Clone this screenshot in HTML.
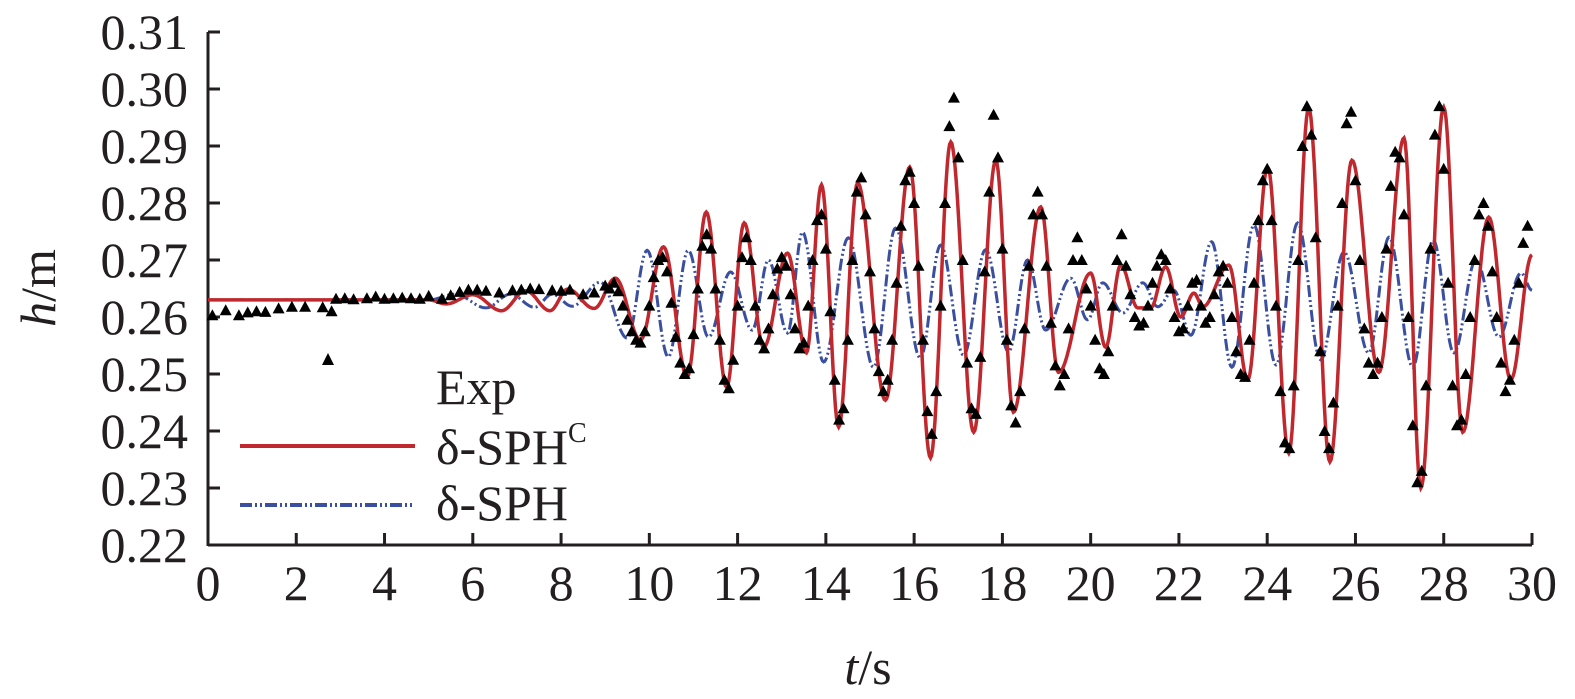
<!DOCTYPE html>
<html><head><meta charset="utf-8"><style>
html,body{margin:0;padding:0;background:#fff;}
svg{display:block;}
text{font-family:"Liberation Serif","Times New Roman",serif;}
</style></head><body>
<svg id="chart" width="1575" height="699" viewBox="0 0 1575 699" xmlns="http://www.w3.org/2000/svg" font-family="Liberation Serif, serif">
<g id="axes"></g>
<g id="series"></g>
<g id="legend">
  <path d="M328,353 L334,365 L322,365 Z" fill="#000"/>
  <text x="436" y="404" font-size="50" fill="#231f20" font-family="Liberation Serif, serif">Exp</text>
  <line x1="240" y1="446" x2="415" y2="446" stroke="#c0282e" stroke-width="4"/>
  <text x="436" y="464" font-size="50" fill="#231f20" font-family="Liberation Serif, serif">δ-SPH<tspan font-size="28" dy="-22">C</tspan></text>
  <line x1="240" y1="505" x2="415" y2="505" stroke="#3a4fa0" stroke-width="4" stroke-dasharray="12,3,2,3,2,3"/>
  <text x="436" y="520" font-size="50" fill="#231f20" font-family="Liberation Serif, serif">δ-SPH</text>
</g>
<text x="868" y="684" font-size="50" text-anchor="middle" fill="#231f20" font-family="Liberation Serif, serif"><tspan font-style="italic">t</tspan>/s</text>
<text transform="translate(55,288) rotate(-90)" font-size="50" text-anchor="middle" fill="#231f20" font-family="Liberation Serif, serif"><tspan font-style="italic">h</tspan>/m</text>
</svg>
<script>
const xTicks = [0,2,4,6,8,10,12,14,16,18,20,22,24,26,28,30];
const yTicks = [0.22,0.23,0.24,0.25,0.26,0.27,0.28,0.29,0.30,0.31];
const yTickLabels = ["0.22","0.23","0.24","0.25","0.26","0.27","0.28","0.29","0.30","0.31"];

// δ-SPH^C extrema (time, value)
const redT = [0,5.0,5.4,6.0,6.65,7.2,7.75,8.15,8.75,9.23,9.8,10.32,10.86,11.29,11.75,12.15,12.59,13.13,13.56,13.9,14.29,14.72,15.35,15.9,16.37,16.83,17.35,17.85,18.25,18.87,19.27,20.0,20.34,20.68,21.07,21.36,21.7,22.04,22.34,22.54,23.13,23.56,24.01,24.49,24.94,25.42,25.92,26.53,27.1,27.48,28.0,28.43,29.02,29.52,30.0];
const redV = [0.263,0.263,0.2623,0.2639,0.2611,0.2646,0.2611,0.2649,0.2615,0.2668,0.256,0.2723,0.2495,0.2784,0.2477,0.2765,0.2547,0.2712,0.2537,0.2832,0.2407,0.2835,0.2454,0.2863,0.2353,0.2907,0.2398,0.2875,0.2433,0.2793,0.2503,0.2677,0.2547,0.2691,0.2616,0.2616,0.2688,0.2600,0.2642,0.2618,0.2691,0.2490,0.2863,0.2361,0.2967,0.2346,0.2875,0.2503,0.2914,0.2300,0.2968,0.2398,0.2775,0.2490,0.2709];

// δ-SPH extrema
const blueT = [0,5.0,5.6,6.3,6.85,7.4,7.8,8.25,8.89,9.5,9.95,10.43,10.88,11.34,11.84,12.33,12.7,13.13,13.47,13.95,14.51,15.08,15.58,16.14,16.6,17.12,17.62,18.14,18.57,18.98,19.55,19.93,20.27,20.73,21.18,21.52,21.88,22.27,22.74,23.2,23.7,24.2,24.69,25.21,25.74,26.3,26.76,27.3,27.76,28.23,28.73,29.25,29.75,30.0];
const blueV = [0.263,0.263,0.264,0.2616,0.264,0.2617,0.264,0.2619,0.2661,0.2563,0.2717,0.2530,0.2717,0.2565,0.2679,0.2577,0.2700,0.2572,0.2749,0.2521,0.2739,0.2512,0.2756,0.2528,0.2726,0.2533,0.2718,0.2539,0.2700,0.2577,0.2668,0.2595,0.2660,0.2607,0.2660,0.2618,0.2647,0.2568,0.2732,0.2512,0.2761,0.2516,0.2765,0.2525,0.2714,0.2537,0.2740,0.2512,0.2735,0.2537,0.2700,0.2565,0.2677,0.2647];

// Experimental points
const expT = [0.1,0.4,0.7,0.9,1.1,1.3,1.6,1.9,2.2,2.6,2.8,2.9,3.1,3.3,3.6,3.8,4.0,4.2,4.4,4.6,4.8,5.0,5.3,5.5,5.7,5.9,6.1,6.3,6.6,6.9,7.1,7.3,7.5,7.8,8.0,8.2,8.5,8.75,9.0,
9.1,9.2,9.3,9.4,9.5,9.6,9.7,9.8,9.9,10.0,10.1,10.2,10.3,10.4,10.5,10.6,10.7,10.8,10.9,11.0,11.1,11.2,11.3,11.4,11.5,11.6,11.7,11.8,11.9,12.0,12.1,12.2,12.3,12.4,12.5,12.6,12.7,12.8,12.9,13.0,13.1,13.2,13.3,13.4,13.5,13.6,13.7,13.8,13.9,14.0,14.1,14.2,14.3,14.4,14.5,14.6,14.7,14.8,14.9,15.0,15.1,15.2,15.3,15.4,15.5,15.6,15.7,15.8,15.9,16.0,16.1,16.2,16.3,16.4,16.5,16.6,16.7,16.8,16.9,17.0,17.1,17.2,17.3,17.4,17.5,17.6,17.7,17.8,17.9,18.0,18.1,18.2,18.3,18.4,18.5,18.6,18.7,18.8,18.9,19.0,19.1,19.2,19.3,19.4,19.5,19.6,19.7,19.8,19.9,20.0,20.1,20.2,20.3,20.4,20.5,20.6,20.7,20.8,20.9,21.0,21.1,21.2,21.3,21.4,21.5,21.6,21.7,21.8,21.9,22.0,22.1,22.2,22.3,22.4,22.5,22.6,22.7,22.8,22.9,23.0,23.1,23.2,23.3,23.4,23.5,23.6,23.7,23.8,23.9,24.0,24.1,24.2,24.3,24.4,24.5,24.6,24.7,24.8,24.9,25.0,25.1,25.2,25.3,25.4,25.5,25.6,25.7,25.8,25.9,26.0,26.1,26.2,26.3,26.4,26.5,26.6,26.7,26.8,26.9,27.0,27.1,27.2,27.3,27.4,27.5,27.6,27.7,27.8,27.9,28.0,28.1,28.2,28.3,28.4,28.5,28.6,28.7,28.8,28.9,29.0,29.1,29.2,29.3,29.4,29.5,29.6,29.7,29.8,29.9];
const expV = [0.2603,0.2612,0.2603,0.2608,0.2610,0.2609,0.2615,0.2618,0.2618,0.2617,0.2610,0.2632,0.2633,0.2631,0.2633,0.2636,0.2632,0.2633,0.2634,0.2633,0.2632,0.2637,0.2632,0.2638,0.2644,0.2648,0.2648,0.2646,0.2643,0.2647,0.2648,0.2650,0.2649,0.2647,0.2646,0.2648,0.2640,0.2643,0.2655,
0.2650,0.2660,0.2645,0.2620,0.2595,0.2575,0.2560,0.2555,0.2575,0.2620,0.2670,0.2700,0.2705,0.2680,0.2625,0.2565,0.2520,0.2500,0.2510,0.2570,0.2650,0.2725,0.2745,0.2720,0.2650,0.2560,0.2490,0.2475,0.2525,0.2620,0.2705,0.2740,0.2700,0.2620,0.2560,0.2545,0.2580,0.2640,0.2685,0.2705,0.2690,0.2640,0.2580,0.2545,0.2555,0.2620,0.2700,0.2770,0.2780,0.2720,0.2610,0.2490,0.2420,0.2440,0.2560,0.2700,0.2820,0.2845,0.2780,0.2680,0.2580,0.2505,0.2470,0.2490,0.2560,0.2660,0.2760,0.2840,0.2855,0.2800,0.2690,0.2560,0.2435,0.2395,0.2470,0.2620,0.2800,0.2935,0.2985,0.2880,0.2700,0.2520,0.2440,0.2430,0.2530,0.2680,0.2820,0.2955,0.2880,0.2720,0.2560,0.2445,0.2415,0.2470,0.2580,0.2690,0.2780,0.2820,0.2780,0.2690,0.2590,0.2515,0.2480,0.2500,0.2580,0.2700,0.2740,0.2700,0.2650,0.2620,0.2560,0.2510,0.2500,0.2540,0.2620,0.2700,0.2745,0.2690,0.2640,0.2600,0.2585,0.2590,0.2620,0.2660,0.2690,0.2710,0.2700,0.2650,0.2600,0.2575,0.2580,0.2620,0.2660,0.2665,0.2620,0.2590,0.2600,0.2640,0.2680,0.2690,0.2660,0.2600,0.2540,0.2500,0.2495,0.2560,0.2660,0.2770,0.2840,0.2860,0.2770,0.2620,0.2470,0.2380,0.2370,0.2480,0.2700,0.2900,0.2970,0.2920,0.2740,0.2540,0.2400,0.2370,0.2450,0.2620,0.2800,0.2940,0.2960,0.2840,0.2700,0.2580,0.2520,0.2500,0.2520,0.2600,0.2720,0.2830,0.2890,0.2880,0.2780,0.2600,0.2410,0.2310,0.2330,0.2480,0.2720,0.2920,0.2970,0.2860,0.2660,0.2480,0.2410,0.2420,0.2500,0.2600,0.2700,0.2780,0.2800,0.2760,0.2680,0.2600,0.2520,0.2470,0.2490,0.2560,0.2660,0.2730,0.2760];

const X0=208, X1=1532, Y0=545, Y1=32;
const xScale = t => X0 + (t-0)/(30-0)*(X1-X0);
const yScale = v => Y0 - (v-0.22)/(0.31-0.22)*(Y0-Y1);
const NS="http://www.w3.org/2000/svg";
const axes=document.getElementById('axes');
const series=document.getElementById('series');
function mk(tag,attrs,parent){const e=document.createElementNS(NS,tag);for(const k in attrs)e.setAttribute(k,attrs[k]);parent.appendChild(e);return e;}

let e=mk('line',{x1:X0,y1:Y0,x2:X1,y2:Y0,stroke:'#231f20','stroke-width':3},axes);


e=mk('line',{x1:X0,y1:Y0+1,x2:X0,y2:Y1,stroke:'#231f20','stroke-width':3},axes);


xTicks.forEach(t=>{
  const x=xScale(t);
  const l=mk('line',{x1:x,y1:Y0,x2:x,y2:Y0-12,stroke:'#231f20','stroke-width':3},axes);
  
  
  const tx=mk('text',{x:x,y:600,'font-size':50,'text-anchor':'middle',fill:'#231f20','font-family':'Liberation Serif, serif'},axes);
  tx.textContent=String(t);
  
  
});
yTicks.forEach((v,i)=>{
  const y=yScale(v);
  const l=mk('line',{x1:X0,y1:y,x2:X0+12,y2:y,stroke:'#231f20','stroke-width':3},axes);
  
  
  const tx=mk('text',{x:188,y:y+17,'font-size':50,'text-anchor':'end',fill:'#231f20','font-family':'Liberation Serif, serif'},axes);
  tx.textContent=yTickLabels[i];
  
  
});

function curvePath(T,V){
  let d='';
  for(let i=0;i<T.length-1;i++){
    const n=Math.max(4,Math.round((T[i+1]-T[i])*40));
    for(let k=(i===0?0:1);k<=n;k++){
      const f=k/n, w=(1-Math.cos(Math.PI*f))/2;
      const t=T[i]+(T[i+1]-T[i])*f, v=V[i]+(V[i+1]-V[i])*w;
      d+=(d?'L':'M')+xScale(t).toFixed(1)+','+yScale(v).toFixed(1);
    }
  }
  return d;
}
const blue=mk('path',{d:curvePath(blueT,blueV),fill:'none',stroke:'#3a4fa0','stroke-width':3,'stroke-dasharray':'12,3,2,3,2,3'},series);


const red=mk('path',{d:curvePath(redT,redV),fill:'none',stroke:'#c0282e','stroke-width':3.5},series);


expT.forEach((t,i)=>{
  const x=xScale(t), y=yScale(expV[i]);
  const p=mk('path',{d:`M${x.toFixed(1)},${(y-6).toFixed(1)} L${(x+6).toFixed(1)},${(y+5).toFixed(1)} L${(x-6).toFixed(1)},${(y+5).toFixed(1)} Z`,fill:'#000'},series);
  
  
});
</script>
</body></html>
